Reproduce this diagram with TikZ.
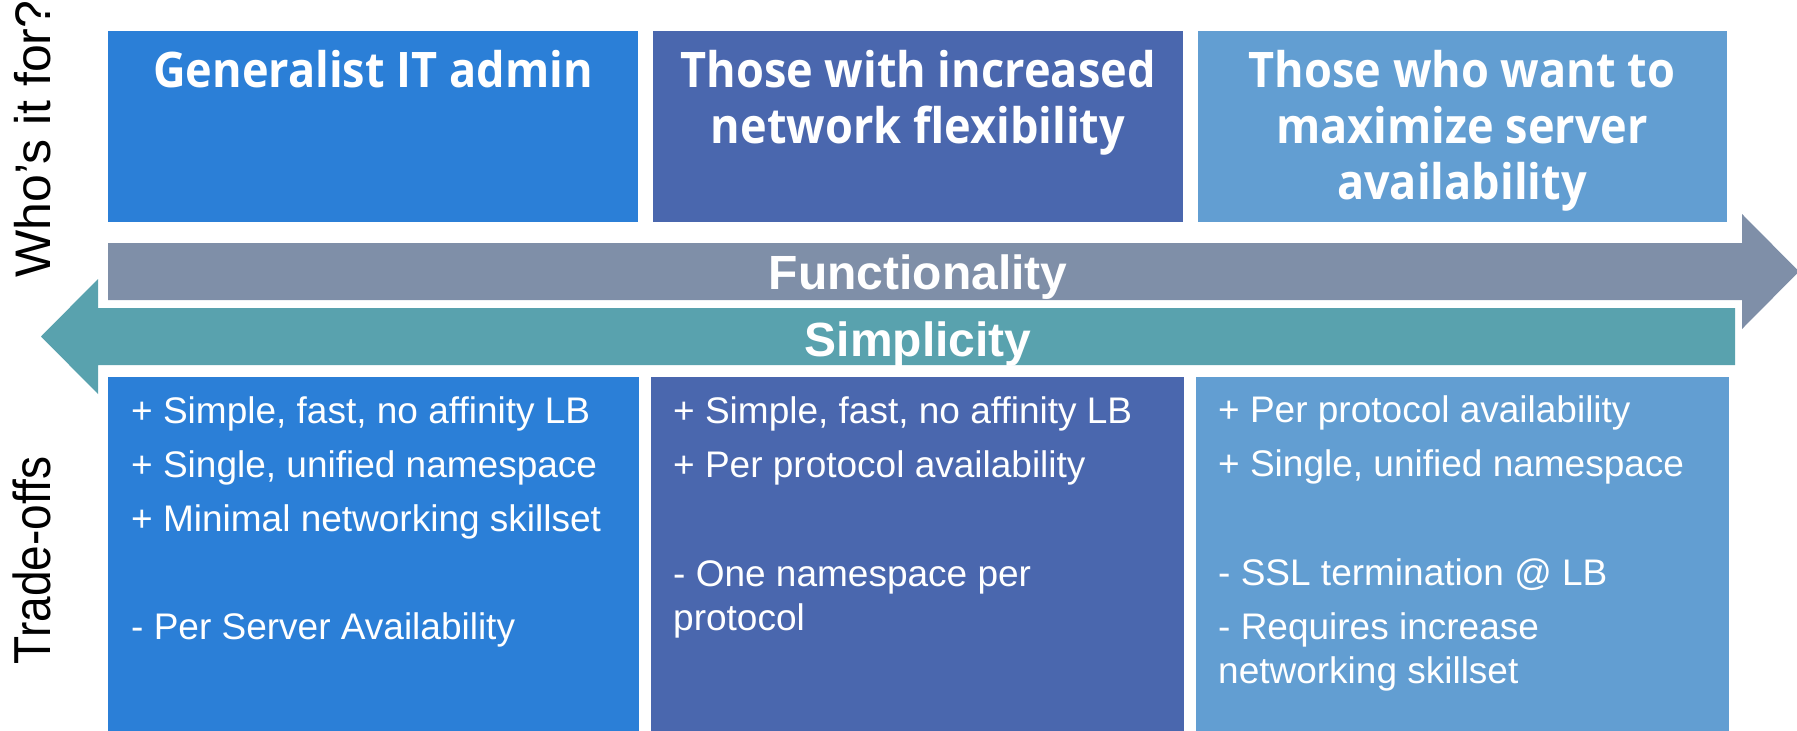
\documentclass[tikz,border=0pt]{standalone}
\usepackage{fontspec}
\setmainfont{Liberation Sans}
\newfontfamily\headfont[FakeStretch=0.92]{Open Sans}
\newfontfamily\narrowfont[FakeStretch=0.885]{Liberation Sans}

\definecolor{panelA}{RGB}{43,127,215}
\definecolor{panelB}{RGB}{74,103,174}
\definecolor{panelC}{RGB}{98,158,210}
\definecolor{funcband}{RGB}{127,143,168}
\definecolor{simpband}{RGB}{89,162,174}

\tikzset{
  panel/.style={draw=none, inner sep=0pt, outer sep=0pt, anchor=north west},
  % multi-line nodes: the base anchor sits on the last line
  headtext/.style={text=white, inner sep=0pt, align=center, anchor=base,
    font=\headfont\bfseries\fontsize{49}{56}\selectfont},
  bodytext/.style={text=white, inner sep=0pt, align=left, anchor=base west,
    font=\fontsize{37}{54}\selectfont},
  bandtext/.style={text=white, inner sep=0pt, anchor=base,
    font=\bfseries\fontsize{48}{56}\selectfont},
  sidetext/.style={text=black, inner sep=0pt, anchor=base, rotate=90,
    font=\fontsize{50}{60}\selectfont},
}

\begin{document}
\begin{tikzpicture}[x=1pt,y=-1pt]
\useasboundingbox (0,0) rectangle (1797,731);

% audience panels
\node[panel, fill=panelA, minimum width=530pt, minimum height=191pt] (who1) at (108,31) {};
\node[panel, fill=panelB, minimum width=530pt, minimum height=191pt] (who2) at (653,31) {};
\node[panel, fill=panelC, minimum width=529pt, minimum height=191pt] (who3) at (1198,31) {};

\node[headtext] (whot1) at (373,87) {Generalist IT admin};
\node[headtext] (whot2) at (918,143) {Those with increased\\network flexibility};
\node[headtext] (whot3) at (1462,199) {Those who want to\\maximize server\\availability};

% functionality band, pointing right
\path[fill=funcband] (108,243) -- (1742,243) -- (1742,214) -- (1799,271.5)
  -- (1742,329) -- (1742,300) -- (108,300) -- cycle;
\node[bandtext] (func) at (918,289) {Functionality};

% simplicity band, pointing left
\path[fill=simpband] (1735,308) -- (98,308) -- (98,279) -- (41,336.5)
  -- (98,394) -- (98,365) -- (1735,365) -- cycle;
\node[bandtext] (simp) at (918,356) {Simplicity};

% trade-off panels
\node[panel, fill=panelA, minimum width=531pt, minimum height=354pt] (trade1) at (108,377) {};
\node[panel, fill=panelB, minimum width=533pt, minimum height=354pt] (trade2) at (651,377) {};
\node[panel, fill=panelC, minimum width=533pt, minimum height=354pt] (trade3) at (1196,377) {};

\node[bodytext] (tradet1) at (131,639) {+ Simple, fast, no affinity LB\\
  + Single, unified namespace\\
  + Minimal networking skillset\\[54pt]
  - Per Server Availability};
\node[bodytext] (tradet2) at (673,630) {+ Simple, fast, no affinity LB\\
  + Per protocol availability\\[55pt]
  - One namespace per\\[-10pt]
  protocol};
\node[bodytext] (tradet3) at (1218,683) {+ Per protocol availability\\
  + Single, unified namespace\\[55pt]
  - SSL termination @ LB\\
  - Requires increase\\[-10pt]
  networking skillset};

% row labels
\node[sidetext] (rowwho) at (50,139) {Who’s it for?};
\node[sidetext, font=\narrowfont\fontsize{52}{60}\selectfont] (rowtrade) at (50,560.5) {Trade-offs};
\end{tikzpicture}
\end{document}
